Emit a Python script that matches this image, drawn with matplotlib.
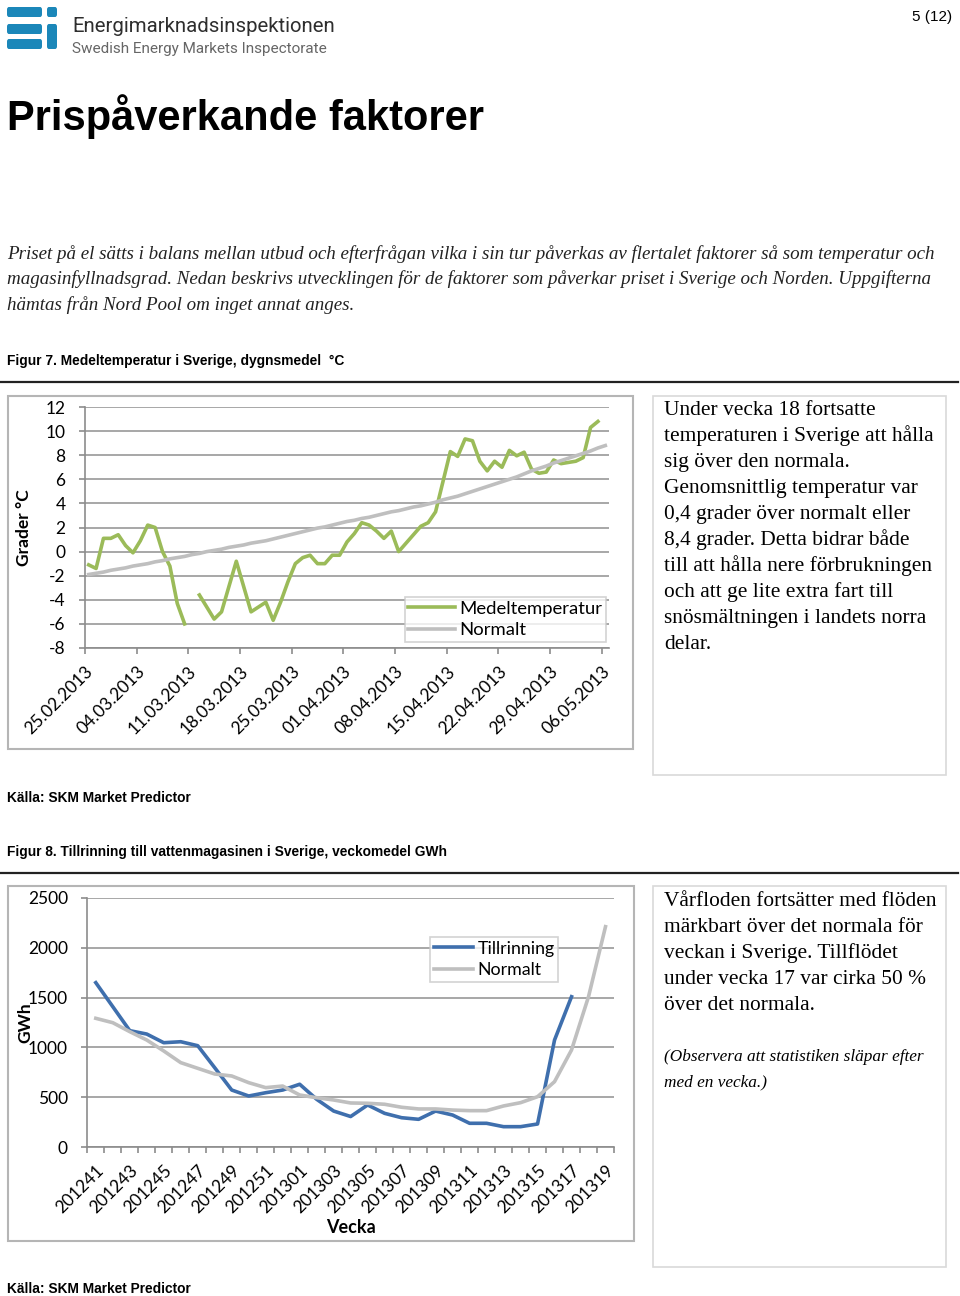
import numpy as np
import matplotlib
matplotlib.use('Agg')
import matplotlib.pyplot as plt
from matplotlib.patches import Rectangle, FancyBboxPatch
from matplotlib.lines import Line2D

plt.rcParams['axes.unicode_minus'] = False

W, H = 960, 1296

# Figur 7: daily mean temperature vs normal, 25.02.2013 onwards
date_labels = ['25.02.2013', '04.03.2013', '11.03.2013', '18.03.2013',
               '25.03.2013', '01.04.2013', '08.04.2013', '15.04.2013',
               '22.04.2013', '29.04.2013', '06.05.2013']
temp_mean = [-1.1, -1.4, 1.1, 1.1, 1.4, 0.5, -0.1, 0.9, 2.2, 2.0,
             0.0, -1.2, -4.3, -6.0, np.nan, -3.6, -4.6, -5.6, -5.0, -2.9,
             -0.8, -2.9, -5.0, -4.6, -4.2, -5.7, -4.2, -2.5, -1.0, -0.5,
             -0.3, -1.0, -1.0, -0.3, -0.3, 0.8, 1.5, 2.4, 2.2, 1.7,
             1.1, 1.7, 0.0, 0.7, 1.4, 2.1, 2.4, 3.3, 5.8, 8.3,
             7.9, 9.35, 9.2, 7.5, 6.7, 7.5, 7.0, 8.4, 7.95, 8.25,
             6.85, 6.5, 6.6, 7.6, 7.3, 7.4, 7.5, 7.8, 10.3, 10.8]
temp_normal = [-1.9, -1.8, -1.7, -1.55, -1.45, -1.35, -1.2, -1.1, -1.0, -0.85,
               -0.75, -0.6, -0.5, -0.4, -0.25, -0.15, 0.0, 0.1, 0.2, 0.35,
               0.45, 0.55, 0.7, 0.8, 0.9, 1.05, 1.2, 1.35, 1.5, 1.65,
               1.8, 1.95, 2.05, 2.2, 2.35, 2.5, 2.6, 2.75, 2.85, 3.0,
               3.15, 3.3, 3.4, 3.55, 3.7, 3.8, 3.95, 4.1, 4.3, 4.45,
               4.6, 4.8, 5.0, 5.2, 5.4, 5.6, 5.8, 6.0, 6.2, 6.45,
               6.7, 6.9, 7.1, 7.35, 7.55, 7.75, 7.95, 8.15, 8.35, 8.6, 8.8]

# Figur 8: weekly inflow (GWh) vs normal
weeks = ['2012%02d' % w for w in range(41, 53)] + ['2013%02d' % w for w in range(1, 20)]
inflow = [1650, 1409, 1168, 1134, 1047, 1057, 1017, 796, 572, 512,
          545, 572, 630, 479, 361, 306, 422, 338, 294, 278,
          361, 321, 238, 238, 204, 204, 231, 1074, 1509]
inflow_normal = [1292, 1248, 1158, 1074, 964, 847, 790, 733, 713, 646,
                 596, 612, 522, 495, 472, 442, 439, 429, 399, 382,
                 382, 371, 365, 365, 412, 445, 505, 656, 974, 1509, 2212]

text_box1 = ['Under vecka 18 fortsatte',
             'temperaturen i Sverige att hålla',
             'sig över den normala.',
             'Genomsnittlig temperatur var',
             '0,4 grader över normalt eller',
             '8,4 grader. Detta bidrar både',
             'till att hålla nere förbrukningen',
             'och att ge lite extra fart till',
             'snösmältningen i landets norra',
             'delar.']
text_box2 = ['Vårfloden fortsätter med flöden',
             'märkbart över det normala för',
             'veckan i Sverige. Tillflödet',
             'under vecka 17 var cirka 50 %',
             'över det normala.']
text_note = ['(Observera att statistiken släpar efter', 'med en vecka.)']
intro = ['Priset på el sätts i balans mellan utbud och efterfrågan vilka i sin tur påverkas av flertalet faktorer så som temperatur och',
         'magasinfyllnadsgrad. Nedan beskrivs utvecklingen för de faktorer som påverkar priset i Sverige och Norden. Uppgifterna',
         'hämtas från Nord Pool om inget annat anges.']

GREEN = '#9bbb59'
GREY = '#bfbfbf'
BLUE = '#3f6fad'
GRID = '#a0a0a0'
LOGO = '#1b87b9'
CHART_FONT = 'Lato'
SERIF = 'Liberation Serif'
SANS = 'Liberation Sans'

fig = plt.figure(figsize=(W / 100, H / 100), dpi=100)


def fx(x):
    return x / W


def fy(y):
    return 1 - y / H


def px_axes(left, top, right, bottom):
    return fig.add_axes([fx(left), fy(bottom), (right - left) / W, (bottom - top) / H])


def frame(left, top, right, bottom, color, lw=1.2):
    fig.add_artist(Rectangle((fx(left), fy(bottom)), (right - left) / W, (bottom - top) / H,
                             transform=fig.transFigure, fill=False, edgecolor=color, lw=lw))


def hline(y, x0=0, x1=958, color='#222222', lw=1.6):
    fig.add_artist(Line2D([fx(x0), fx(x1)], [fy(y), fy(y)], transform=fig.transFigure,
                          color=color, lw=lw))


# header logo
for (l, t, r, b) in [(7, 7, 42, 17), (7, 24, 42, 34), (7, 39, 42, 49), (47, 7, 57, 17), (47, 24, 57, 49)]:
    fig.add_artist(FancyBboxPatch((fx(l), fy(b)), (r - l) / W, (b - t) / H,
                                  boxstyle='round,pad=0,rounding_size=0.002',
                                  transform=fig.transFigure, facecolor=LOGO, edgecolor='none'))
fig.text(fx(72), fy(32), 'Energimarknadsinspektionen', family='Roboto', fontsize=14.7,
         color='#2e2e2e', va='baseline')
fig.text(fx(72), fy(53), 'Swedish Energy Markets Inspectorate', family='Roboto', fontsize=11,
         color='#666666', va='baseline')
fig.text(fx(952), fy(21), '5 (12)', family=SANS, fontsize=11, ha='right', va='baseline')

fig.text(fx(7), fy(130), 'Prispåverkande faktorer', family=SANS, fontsize=30,
         fontweight='bold', va='baseline')
for i, line in enumerate(intro):
    fig.text(fx(7), fy(259 + 25.5 * i), line, family=SERIF, fontsize=13.7, style='italic',
             va='baseline', color='#222222')

fig.text(fx(7), fy(365), 'Figur 7. Medeltemperatur i Sverige, dygnsmedel  °C', family=SANS,
         fontsize=9.9, fontweight='bold', va='baseline')
hline(382)
fig.text(fx(7), fy(802), 'Källa: SKM Market Predictor', family=SANS, fontsize=9.9,
         fontweight='bold', va='baseline')
fig.text(fx(7), fy(856), 'Figur 8. Tillrinning till vattenmagasinen i Sverige, veckomedel GWh',
         family=SANS, fontsize=9.9, fontweight='bold', va='baseline')
hline(873)
fig.text(fx(7), fy(1293), 'Källa: SKM Market Predictor', family=SANS, fontsize=9.9,
         fontweight='bold', va='baseline')

# frames
frame(8, 396, 633, 749, '#b5b5b5', 1.5)
frame(653, 396, 946, 775, '#d9d9d9', 1.2)
frame(8, 886, 634, 1241, '#b5b5b5', 1.5)
frame(653, 886, 946, 1267, '#d9d9d9', 1.2)

for i, line in enumerate(text_box1):
    fig.text(fx(664), fy(415 + 26 * i), line, family=SERIF, fontsize=15.4, va='baseline')
for i, line in enumerate(text_box2):
    fig.text(fx(664), fy(906 + 26 * i), line, family=SERIF, fontsize=15.4, va='baseline')
for i, line in enumerate(text_note):
    fig.text(fx(664), fy(1061 + 25 * i), line, family=SERIF, fontsize=12.4, style='italic',
             va='baseline')


def style_axes(ax):
    for s in ['top', 'right']:
        ax.spines[s].set_visible(False)
    for s in ['left', 'bottom']:
        ax.spines[s].set_color('#8c8c8c')
        ax.spines[s].set_linewidth(1.2)
    ax.grid(axis='y', color=GRID, lw=1.3)
    ax.set_axisbelow(True)
    ax.tick_params(colors='#8c8c8c', labelcolor='black', length=4, width=1.2)
    for lbl in ax.get_xticklabels() + ax.get_yticklabels():
        lbl.set_family(CHART_FONT)


def add_legend(ax, loc, anchor, size, hlen=2.5):
    leg = ax.legend(loc=loc, bbox_to_anchor=anchor, frameon=True, fancybox=False,
                    prop={'family': CHART_FONT, 'size': size}, handlelength=hlen,
                    borderpad=0.2, labelspacing=0.3, handletextpad=0.25, borderaxespad=0)
    leg.get_frame().set_edgecolor('#c8c8c8')
    leg.get_frame().set_linewidth(1.2)
    return leg


# Figur 7
ax1 = px_axes(85, 407, 609, 648)
ax1.plot(np.arange(len(temp_mean)) + 0.5, temp_mean, color=GREEN, lw=2.6, label='Medeltemperatur')
ax1.plot(np.arange(len(temp_normal)) + 0.5, temp_normal, color=GREY, lw=2.6, label='Normalt')
ax1.set_xlim(0, 71)
ax1.set_ylim(-8, 12)
ax1.set_yticks(range(-8, 13, 2))
ax1.set_xticks(range(0, 71, 7))
ax1.set_xticklabels(date_labels, rotation=45, ha='right', va='top', rotation_mode='anchor')
ax1.tick_params(axis='y', labelsize=12.5, pad=10)
ax1.tick_params(axis='x', labelsize=12.5, pad=7)
style_axes(ax1)
ax1.set_ylabel('Grader °C', family=CHART_FONT, fontsize=12.5, fontweight='bold', labelpad=9.5)
add_legend(ax1, 'lower right', (0.994, 0.025), 13.3)

# Figur 8
ax2 = px_axes(87.3, 898, 614, 1147)
ax2.plot(np.arange(len(inflow)) + 0.5, inflow, color=BLUE, lw=2.6, label='Tillrinning')
ax2.plot(np.arange(len(inflow_normal)) + 0.5, inflow_normal, color=GREY, lw=2.6, label='Normalt')
ax2.set_xlim(0, len(weeks))
ax2.set_ylim(0, 2500)
ax2.set_yticks(range(0, 2501, 500))
ax2.set_xticks(np.arange(0, len(weeks), 2) + 0.5)
ax2.set_xticklabels(weeks[::2], rotation=45, ha='right', va='top', rotation_mode='anchor')
ax2.set_xticks(np.arange(0, len(weeks) + 1), minor=True)
ax2.tick_params(axis='x', which='major', length=0, labelsize=12.5, pad=11)
ax2.tick_params(axis='x', which='minor', length=4, width=1.2, colors='#8c8c8c')
ax2.tick_params(axis='y', labelsize=12.5, pad=10)
style_axes(ax2)
ax2.tick_params(axis='x', which='major', length=0)
ax2.set_ylabel('GWh', family=CHART_FONT, fontsize=12.5, fontweight='bold', labelpad=-4)
ax2.set_xlabel('Vecka', family=CHART_FONT, fontsize=13, fontweight='bold', labelpad=2)
add_legend(ax2, 'upper left', (0.651, 0.843), 12.8, hlen=2.2)

fig.savefig('out.png', dpi=100)
